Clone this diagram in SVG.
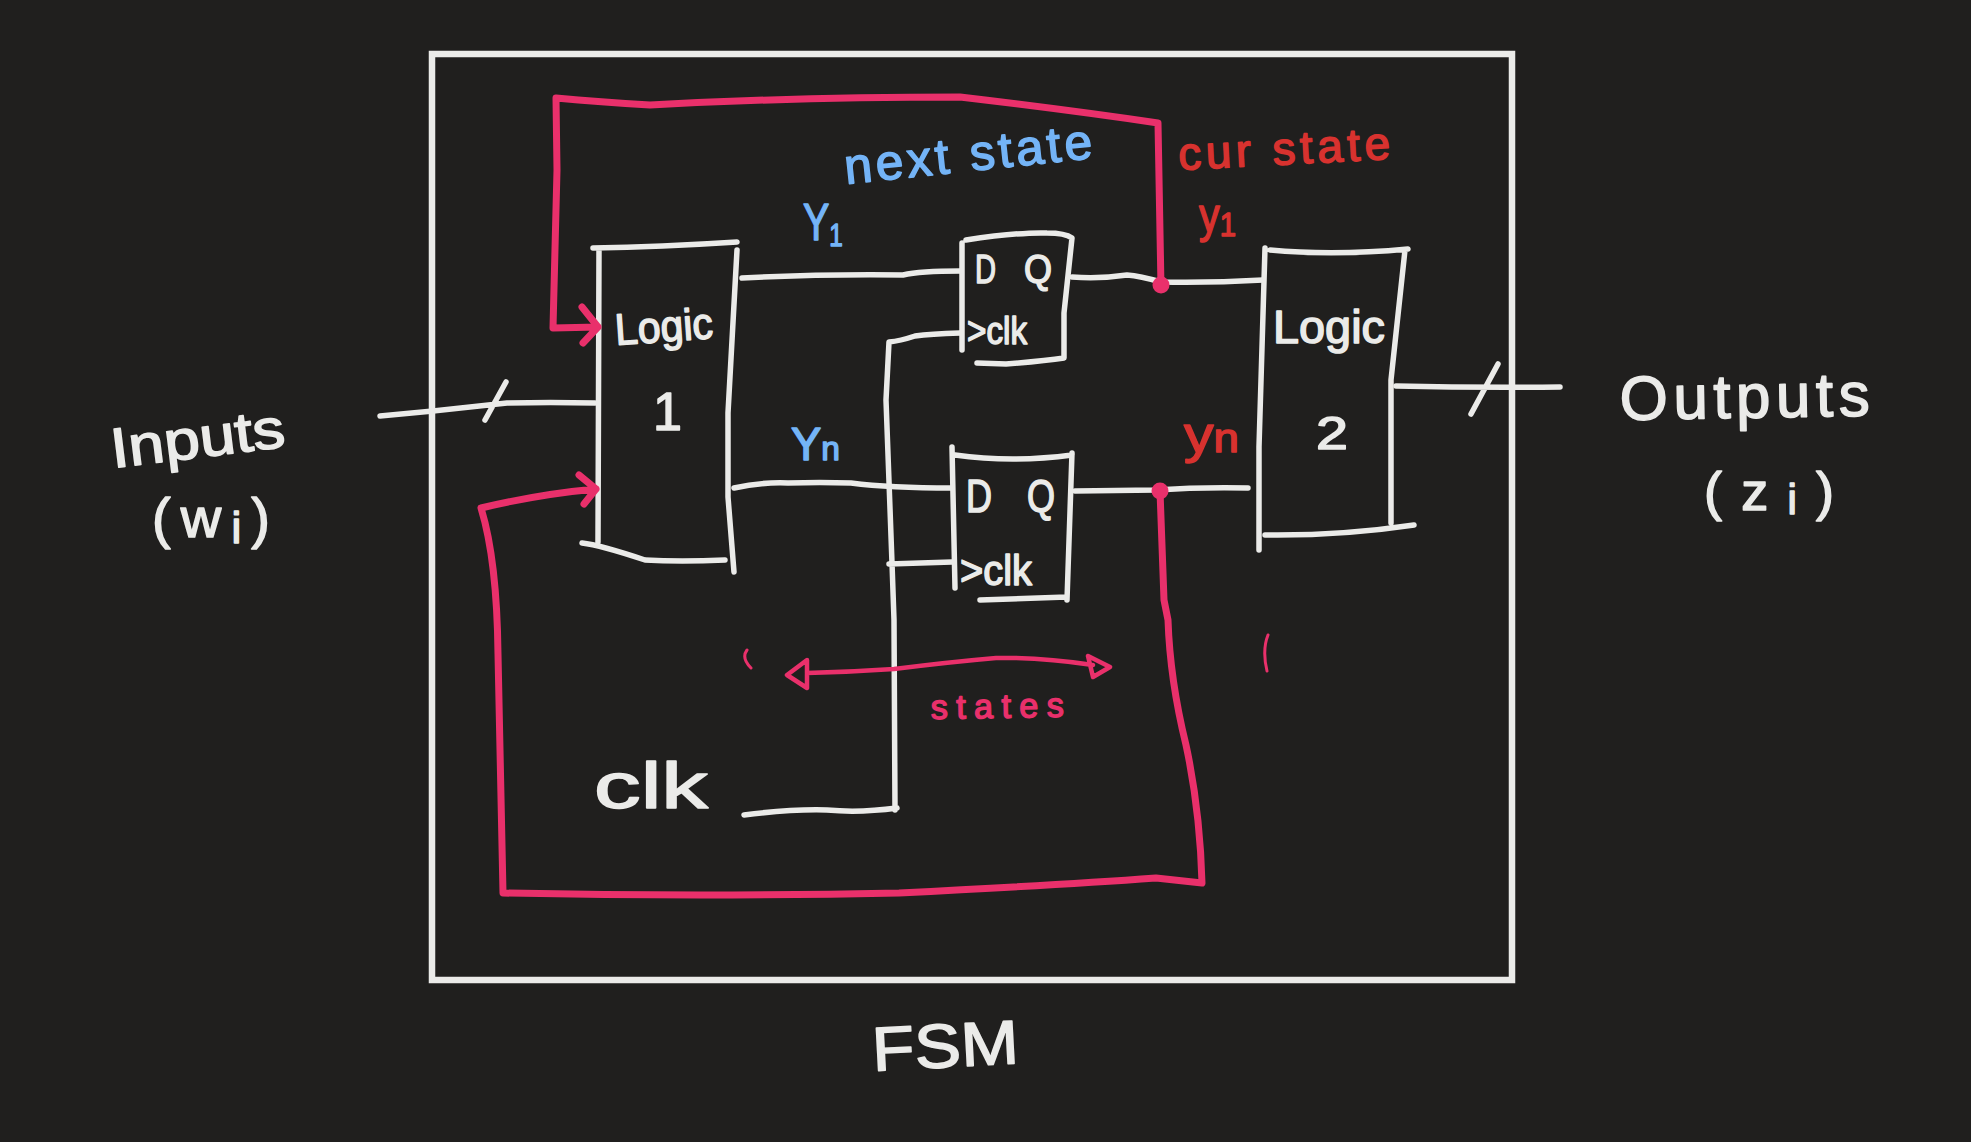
<svg xmlns="http://www.w3.org/2000/svg" width="1971" height="1142" viewBox="0 0 1971 1142">
<style>
.w{fill:none;stroke:#ebebe9;stroke-width:5.5;stroke-linecap:round;stroke-linejoin:round}
.p{fill:none;stroke:#e9306b;stroke-width:7;stroke-linecap:round;stroke-linejoin:round}
.t{font-family:"Liberation Sans",Arial,sans-serif;fill:#ebebe9;stroke:#ebebe9;stroke-width:1.5;stroke-linejoin:round}
.b{fill:#74b4f7;stroke:#74b4f7}
.r{fill:#d8322f;stroke:#d8322f}
.k{fill:#e9306b;stroke:#e9306b}
</style>
<rect width="1971" height="1142" fill="#201f1e"/>
<g id="fsm-frame">
<rect x="432" y="54" width="1080" height="926" fill="none" stroke="#ebebe9" stroke-width="6.5"/>
<text class="t" font-size="62" x="873" y="1071" textLength="147" lengthAdjust="spacingAndGlyphs" transform="rotate(-3 873 1071)">FSM</text>
</g>
<g id="inputs">
<text class="t" font-size="56" x="113" y="468" textLength="175" lengthAdjust="spacingAndGlyphs" transform="rotate(-7 113 468)">Inputs</text>
<text class="t" font-size="56" x="152" y="537" textLength="118" lengthAdjust="spacing">(w<tspan font-size="44" dy="6">i</tspan><tspan dy="-6">)</tspan></text>
</g>
<g id="outputs">
<text class="t" font-size="62" x="1620" y="420" textLength="250" lengthAdjust="spacing" transform="rotate(-1 1620 420)">Outputs</text>
<text class="t" font-size="54" x="1704" y="510" textLength="130" lengthAdjust="spacing">(z<tspan font-size="42" dy="4">i</tspan><tspan dy="-4">)</tspan></text>
</g>
<g id="logic1">
<path class="w" d="M593 248Q660 247 737 242M599 250L598 542M582 543Q600 545 645 560Q680 562 725 560M737 250L728 413L728 497L734 572"/>
<text class="t" font-size="44" x="616" y="345" textLength="98" lengthAdjust="spacingAndGlyphs" transform="rotate(-4 616 345)">Logic</text>
<text class="t" font-size="54" x="653" y="430" textLength="29" lengthAdjust="spacingAndGlyphs">1</text>
</g>
<g id="logic2">
<path class="w" d="M1270 250Q1334 256 1408 249M1265 248L1259 447L1259 550M1405 250L1391 380L1391 523M1265 535Q1340 536 1414 525"/>
<text class="t" font-size="46" x="1273" y="343" textLength="112" lengthAdjust="spacingAndGlyphs">Logic</text>
<text class="t" font-size="46" x="1316" y="449" textLength="32" lengthAdjust="spacingAndGlyphs">2</text>
</g>
<g id="ff1">
<path class="w" d="M962 243L962 350M966 240Q1020 232 1047 233Q1065 233 1072 238L1064 313L1064 358Q1045 361 1006 364L977 363"/>
<text class="t" font-size="40" x="975" y="283" textLength="21" lengthAdjust="spacingAndGlyphs">D</text>
<text class="t" font-size="40" x="1024" y="283" textLength="28" lengthAdjust="spacingAndGlyphs">Q</text>
<text class="t" font-size="38" x="967" y="344" textLength="60" lengthAdjust="spacingAndGlyphs">&gt;clk</text>
</g>
<g id="ff2">
<path class="w" d="M952 447L955 588M955 455Q1012 463 1072 455L1072 453L1067 600M980 600L1067 597"/>
<text class="t" font-size="46" x="966" y="512" textLength="26" lengthAdjust="spacingAndGlyphs">D</text>
<text class="t" font-size="46" x="1027" y="512" textLength="28" lengthAdjust="spacingAndGlyphs">Q</text>
<text class="t" font-size="42" x="960" y="585" textLength="72" lengthAdjust="spacingAndGlyphs">&gt;clk</text>
</g>
<g id="clk-source">
<text class="t" font-size="64" x="594" y="808" textLength="114" lengthAdjust="spacingAndGlyphs">clk</text>
</g>
<g id="connectors">
<path class="w" d="M380 416L433 411L507 403Q550 402 595 403M506 382L485 420"/>
<path class="w" d="M1396 386Q1480 388 1560 387M1498 364L1471 414"/>
<path class="w" d="M742 278Q820 274 903 275Q920 271 960 271"/>
<path class="w" d="M1072 277Q1100 279 1127 275Q1140 276 1161 282Q1210 283 1263 280"/>
<path class="w" d="M734 488Q760 482 788 483Q820 482 851 483Q890 488 952 488"/>
<path class="w" d="M1075 491L1156 490Q1200 487 1248 488"/>
<path class="w" d="M960 333Q930 334 915 336Q900 341 889 342L886 400L892 563L894 620L895 810M744 815Q790 809 827 810Q860 813 897 808M889 564L952 562"/>
<path class="p" d="M1161 287L1158 123Q1070 110 960 97Q800 97 650 105Q600 102 556 98L557 170L553 328L598 327M582 307L598 327L583 343"/>
<path class="p" d="M596 489Q540 494 481 508Q497 560 498 654L503 893Q700 897 899 893Q1060 885 1156 878L1202 883Q1200 810 1186 745Q1170 680 1168 620L1164 600L1160 491M579 475L596 489L584 504"/>
<circle cx="1161" cy="285" r="8.5" fill="#e9306b"/>
<circle cx="1160" cy="491" r="8.5" fill="#e9306b"/>
<path class="p" style="stroke-width:4.5" d="M807 673Q850 672 894 669Q950 662 996 658Q1040 657 1093 665M807 660L787 675L807 688ZM1088 656L1110 667L1093 677Z"/>
<path class="p" style="stroke-width:3" d="M747 650Q741 658 751 668M1268 635Q1262 650 1267 671"/>
</g>
<g id="labels">
<text class="t b" font-size="50" x="846" y="184" textLength="249" lengthAdjust="spacing" transform="rotate(-6 846 184)">next state</text>
<text class="t r" font-size="46" x="1179" y="170" textLength="212" lengthAdjust="spacing" transform="rotate(-3 1179 170)">cur state</text>
<text class="t b" font-size="52" transform="translate(803 240) scale(0.76 1)">Y<tspan font-size="32" dy="6">1</tspan></text>
<text class="t b" font-size="46" x="791" y="460" textLength="49" lengthAdjust="spacingAndGlyphs">Y<tspan font-size="34">n</tspan></text>
<text class="t r" font-size="48" x="1199" y="232" textLength="37" lengthAdjust="spacingAndGlyphs">y<tspan font-size="34" dy="4">1</tspan></text>
<text class="t r" font-size="52" x="1184" y="452" textLength="55" lengthAdjust="spacingAndGlyphs">y<tspan font-size="40">n</tspan></text>
<text class="t k" font-size="34" x="931" y="719" textLength="133" lengthAdjust="spacing" transform="rotate(-1 931 719)">states</text>
</g>
</svg>
